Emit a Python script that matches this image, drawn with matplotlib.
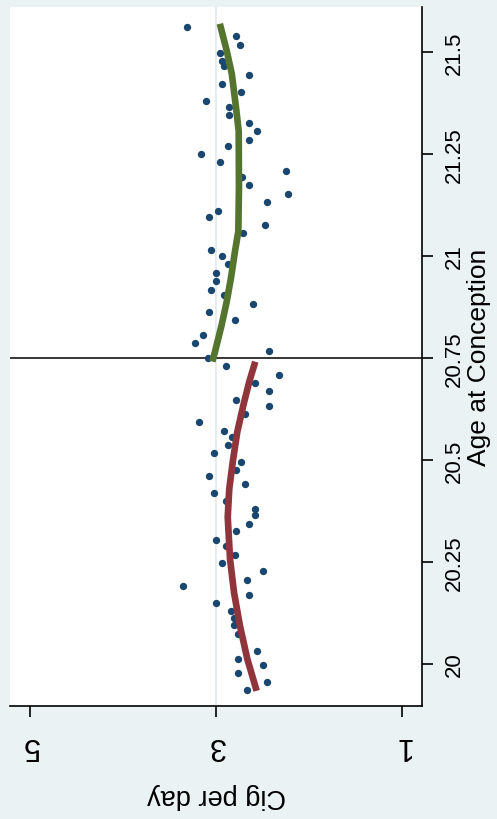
import numpy as np
import matplotlib
matplotlib.use('Agg')
import matplotlib.pyplot as plt

plt.rcParams['font.family'] = ['Liberation Sans', 'DejaVu Sans']

# binned means: age at conception vs cigarettes per day
age = [21.56, 21.538, 21.518, 21.497, 21.478, 21.465, 21.443, 21.422, 21.401, 21.380,
       21.366, 21.346, 21.325, 21.305, 21.285, 21.270, 21.249, 21.229, 21.208, 21.193,
       21.173, 21.152, 21.132, 21.111, 21.096, 21.075, 21.055, 21.015, 21.000, 20.979,
       20.959, 20.938, 20.917, 20.903, 20.883, 20.863, 20.843, 20.806, 20.786, 20.766,
       20.75, 20.729, 20.709, 20.688, 20.669, 20.648, 20.633, 20.612, 20.593, 20.572,
       20.557, 20.537, 20.516, 20.495, 20.475, 20.461, 20.440, 20.420, 20.400, 20.380,
       20.364, 20.343, 20.326, 20.303, 20.288, 20.267, 20.248, 20.227, 20.207, 20.191,
       20.170, 20.150, 20.130, 20.112, 20.095, 20.073, 20.033, 20.013, 19.998, 19.979,
       19.957, 19.937]
cigs = [3.31, 2.78, 2.74, 2.96, 2.94, 2.91, 2.65, 2.94, 2.73, 3.11,
        2.86, 2.86, 2.65, 2.56, 2.65, 2.87, 3.16, 2.96, 2.25, 2.72,
        2.65, 2.23, 2.45, 2.98, 3.07, 2.47, 2.71, 3.05, 2.94, 2.87,
        3.00, 3.00, 3.05, 2.91, 2.60, 3.07, 2.80, 3.14, 3.23, 2.43,
        3.09, 2.89, 2.32, 2.58, 2.43, 2.78, 2.43, 2.69, 3.18, 2.91,
        2.83, 2.87, 3.02, 2.73, 2.78, 3.07, 2.69, 3.02, 2.89, 2.58,
        2.58, 2.65, 2.78, 3.00, 2.89, 2.80, 2.94, 2.49, 2.67, 3.36,
        2.65, 3.00, 2.84, 2.81, 2.81, 2.76, 2.56, 2.76, 2.49, 2.76,
        2.45, 2.67]

# quadratic fit above the cutoff
fit_hi_age = [21.561, 21.503, 21.446, 21.364, 21.306, 21.168, 21.060, 21.011, 20.946,
              20.888, 20.831, 20.765, 20.749]
fit_hi_cig = [2.95, 2.885, 2.83, 2.785, 2.756, 2.753, 2.76, 2.796, 2.839,
              2.885, 2.939, 3.011, 3.03]
# quadratic fit below the cutoff
fit_lo_age = [20.733, 20.692, 20.634, 20.569, 20.495, 20.430, 20.360, 20.257, 20.175,
              20.093, 20.012, 19.942]
fit_lo_cig = [2.588, 2.642, 2.706, 2.771, 2.82, 2.857, 2.874, 2.849, 2.806,
              2.742, 2.663, 2.573]

cutoff = 20.75
age_ticks = [20, 20.25, 20.5, 20.75, 21, 21.25, 21.5]
age_labels = ['20', '20.25', '20.5', '20.75', '21', '21.25', '21.5']
cig_ticks = [5, 3, 1]

fig = plt.figure(figsize=(4.97, 8.20), dpi=100, facecolor='#eaf2f3')
ax = fig.add_axes([10/497, 113/820, 412/497, 699/820])
ax.set_facecolor('white')

ax.axvline(3, color='#e1eaee', linewidth=1.2, zorder=0)
ax.axhline(cutoff, color='black', linewidth=1.1, zorder=1)

ax.scatter(cigs, age, s=28, color='#1a476f', zorder=2, linewidths=0)
ax.plot(fit_hi_cig, fit_hi_age, color='#55752f', linewidth=4.8, zorder=3)
ax.plot(fit_lo_cig, fit_lo_age, color='#90353b', linewidth=4.8, zorder=3)

ax.set_xlim(5.215, 0.785)
ax.set_ylim(19.897, 21.61)

ax.spines['top'].set_visible(False)
ax.spines['left'].set_visible(False)
ax.spines['right'].set_linewidth(1.2)
ax.spines['bottom'].set_linewidth(1.2)

ax.yaxis.tick_right()
ax.yaxis.set_label_position('right')
ax.set_yticks(age_ticks)
ax.set_yticklabels(age_labels, rotation=90, va='center', fontsize=16)
ax.set_xticks(cig_ticks)
ax.set_xticklabels([str(c) for c in cig_ticks], rotation=180, fontsize=22)
ax.tick_params(axis='both', length=8, width=1.2, color='black')
ax.tick_params(axis='y', pad=8)
ax.tick_params(axis='x', pad=9)

ax.set_xlabel('Cig per day', rotation=180, fontsize=19.5, labelpad=16)
ax.set_ylabel('Age at Conception', rotation=90, fontsize=19, labelpad=1)

fig.savefig('out.png', dpi=100, facecolor=fig.get_facecolor())
